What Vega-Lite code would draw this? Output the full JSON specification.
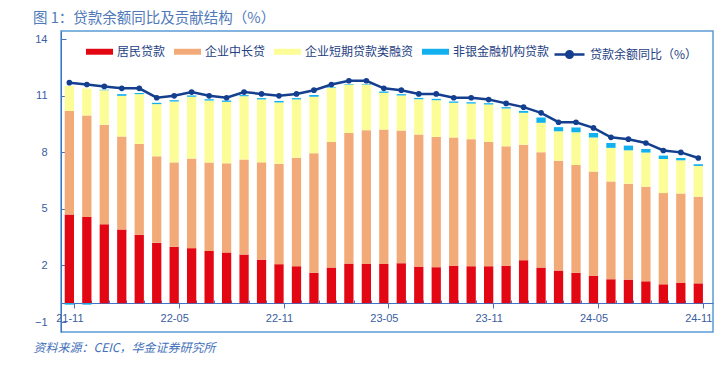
{
  "$schema": "https://vega.github.io/schema/vega-lite/v6.json",
  "width": 652,
  "height": 301,
  "autosize": "none",
  "padding": {"left": 61, "top": 31, "right": 10, "bottom": 33},
  "background": "white",
  "config": {
    "view": {"stroke": "#5b9bd5", "strokeWidth": 1.5},
    "font": "Liberation Sans, Noto Sans CJK SC"
  },
  "title": {
    "text": "图 1：贷款余额同比及贡献结构（%）",
    "anchor": "start",
    "frame": "bounds",
    "fontSize": 14.5,
    "fontWeight": "normal",
    "color": "#4f79b9",
    "font": "Noto Sans CJK SC",
    "offset": 5
  },
  "data": {
    "values": [
      {"m": "21-11", "居民贷款": 4.71, "企业中长贷": 5.49, "企业短期贷款类融资": 1.32, "非银金融机构贷款": -0.08, "yoy": 11.7},
      {"m": "21-12", "居民贷款": 4.57, "企业中长贷": 5.39, "企业短期贷款类融资": 1.43, "非银金融机构贷款": -0.08, "yoy": 11.6},
      {"m": "22-01", "居民贷款": 4.19, "企业中长贷": 5.27, "企业短期贷款类融资": 1.84, "非银金融机构贷款": 0.02, "yoy": 11.5},
      {"m": "22-02", "居民贷款": 3.91, "企业中长贷": 4.93, "企业短期贷款类融资": 2.16, "非银金融机构贷款": 0.09, "yoy": 11.4},
      {"m": "22-03", "居民贷款": 3.63, "企业中长贷": 4.82, "企业短期贷款类融资": 2.64, "非银金融机构贷款": 0.06, "yoy": 11.4},
      {"m": "22-04", "居民贷款": 3.20, "企业中长贷": 4.59, "企业短期贷款类融资": 2.77, "非银金融机构贷款": 0.07, "yoy": 10.9},
      {"m": "22-05", "居民贷款": 2.99, "企业中长贷": 4.48, "企业短期贷款类融资": 3.23, "非银金融机构贷款": 0.07, "yoy": 11.0},
      {"m": "22-06", "居民贷款": 2.92, "企业中长贷": 4.75, "企业短期贷款类融资": 3.28, "非银金融机构贷款": 0.07, "yoy": 11.2},
      {"m": "22-07", "居民贷款": 2.77, "企业中长贷": 4.69, "企业短期贷款类融资": 3.29, "非银金融机构贷款": 0.07, "yoy": 11.0},
      {"m": "22-08", "居民贷款": 2.69, "企业中长贷": 4.73, "企业短期贷款类融资": 3.26, "非银金融机构贷款": 0.07, "yoy": 10.9},
      {"m": "22-09", "居民贷款": 2.58, "企业中长贷": 5.04, "企业短期贷款类融资": 3.36, "非银金融机构贷款": 0.06, "yoy": 11.2},
      {"m": "22-10", "居民贷款": 2.31, "企业中长贷": 5.16, "企业短期贷款类融资": 3.34, "非银金融机构贷款": 0.07, "yoy": 11.1},
      {"m": "22-11", "居民贷款": 2.07, "企业中长贷": 5.32, "企业短期贷款类融资": 3.26, "非银金融机构贷款": 0.08, "yoy": 11.0},
      {"m": "22-12", "居民贷款": 1.96, "企业中长贷": 5.76, "企业短期贷款类融资": 3.09, "非银金融机构贷款": 0.07, "yoy": 11.1},
      {"m": "23-01", "居民贷款": 1.62, "企业中长贷": 6.33, "企业短期贷款类融资": 3.00, "非银金融机构贷款": 0.09, "yoy": 11.3},
      {"m": "23-02", "居民贷款": 1.89, "企业中长贷": 6.66, "企业短期贷款类融资": 2.88, "非银金融机构贷款": 0.03, "yoy": 11.6},
      {"m": "23-03", "居民贷款": 2.10, "企业中长贷": 6.93, "企业短期贷款类融资": 2.56, "非银金融机构贷款": 0.03, "yoy": 11.8},
      {"m": "23-04", "居民贷款": 2.08, "企业中长贷": 7.10, "企业短期贷款类融资": 2.42, "非银金融机构贷款": 0.03, "yoy": 11.8},
      {"m": "23-05", "居民贷款": 2.08, "企业中长贷": 7.13, "企业短期贷款类融资": 1.95, "非银金融机构贷款": 0.07, "yoy": 11.4},
      {"m": "23-06", "居民贷款": 2.12, "企业中长贷": 7.04, "企业短期贷款类融资": 1.86, "非银金融机构贷款": 0.07, "yoy": 11.3},
      {"m": "23-07", "居民贷款": 1.94, "企业中长贷": 7.01, "企业短期贷款类融资": 1.87, "非银金融机构贷款": 0.07, "yoy": 11.1},
      {"m": "23-08", "居民贷款": 1.91, "企业中长贷": 6.91, "企业短期贷款类融资": 1.95, "非银金融机构贷款": 0.07, "yoy": 11.1},
      {"m": "23-09", "居民贷款": 1.99, "企业中长贷": 6.80, "企业短期贷款类融资": 1.84, "非银金融机构贷款": 0.07, "yoy": 10.9},
      {"m": "23-10", "居民贷款": 1.96, "企业中长贷": 6.74, "企业短期贷款类融资": 1.89, "非银金融机构贷款": 0.07, "yoy": 10.9},
      {"m": "23-11", "居民贷款": 1.96, "企业中长贷": 6.59, "企业短期贷款类融资": 1.99, "非银金融机构贷款": 0.07, "yoy": 10.8},
      {"m": "23-12", "居民贷款": 1.99, "企业中长贷": 6.33, "企业短期贷款类融资": 2.01, "非银金融机构贷款": 0.07, "yoy": 10.6},
      {"m": "24-01", "居民贷款": 2.28, "企业中长贷": 6.13, "企业短期贷款类融资": 1.69, "非银金融机构贷款": 0.10, "yoy": 10.4},
      {"m": "24-02", "居民贷款": 1.89, "企业中长贷": 6.12, "企业短期贷款类融资": 1.56, "非银金融机构贷款": 0.28, "yoy": 10.1},
      {"m": "24-03", "居民贷款": 1.73, "企业中长贷": 5.83, "企业短期贷款类融资": 1.56, "非银金融机构贷款": 0.22, "yoy": 9.6},
      {"m": "24-04", "居民贷款": 1.62, "企业中长贷": 5.71, "企业短期贷款类融资": 1.74, "非银金融机构贷款": 0.25, "yoy": 9.6},
      {"m": "24-05", "居民贷款": 1.46, "企业中长贷": 5.52, "企业短期贷款类融资": 1.81, "非银金融机构贷款": 0.24, "yoy": 9.3},
      {"m": "24-06", "居民贷款": 1.27, "企业中长贷": 5.19, "企业短期贷款类融资": 1.78, "非银金融机构贷款": 0.26, "yoy": 8.8},
      {"m": "24-07", "居民贷款": 1.25, "企业中长贷": 5.09, "企业短期贷款类融资": 1.77, "非银金融机构贷款": 0.25, "yoy": 8.7},
      {"m": "24-08", "居民贷款": 1.16, "企业中长贷": 5.02, "企业短期贷款类融资": 1.81, "非银金融机构贷款": 0.19, "yoy": 8.5},
      {"m": "24-09", "居民贷款": 1.00, "企业中长贷": 4.84, "企业短期贷款类融资": 1.81, "非银金融机构贷款": 0.18, "yoy": 8.1},
      {"m": "24-10", "居民贷款": 1.09, "企业中长贷": 4.73, "企业短期贷款类融资": 1.76, "非银金融机构贷款": 0.12, "yoy": 8.0},
      {"m": "24-11", "居民贷款": 1.05, "企业中长贷": 4.60, "企业短期贷款类融资": 1.63, "非银金融机构贷款": 0.09, "yoy": 7.7}
    ]
  },
  "encoding": {
    "x": {
      "field": "m",
      "type": "ordinal",
      "sort": null,
      "scale": {"paddingInner": 0.47, "paddingOuter": 0.395, "align": 0.27},
      "axis": {
        "title": "资料来源：CEIC，华金证券研究所",
        "titleFont": "Noto Sans CJK SC",
        "titleFontSize": 12,
        "titleFontStyle": "italic",
        "titleFontWeight": "normal",
        "titleColor": "#4270b8",
        "titleAlign": "left",
        "titleBaseline": "middle",
        "titleX": -28,
        "titleY": 44,
        "offset": -29,
        "labelAngle": 0,
        "labelFontSize": 11,
        "labelColor": "#3a5da0",
        "labelPadding": 4,
        "labelExpr": "indexof(['21-11','22-05','22-11','23-05','23-11','24-05','24-11'], datum.value) >= 0 ? datum.value : ''",
        "tickBand": "extent",
        "tickColor": "#4472c4",
        "tickSize": {"condition": {"test": "indexof(['21-11','22-05','22-11','23-05','23-11','24-05','24-11'], datum.value) >= 0", "value": 5}, "value": -3},
        "domainColor": "#4472c4",
        "grid": false
      }
    },
    "y": {
      "type": "quantitative",
      "scale": {"domain": [-1.53, 14.44], "nice": false, "zero": false},
      "axis": {
        "title": null,
        "values": [-1, 2, 5, 8, 11, 14],
        "grid": false,
        "tickSize": -5,
        "tickColor": "#4472c4",
        "domainColor": "#4472c4",
        "labelPadding": 19,
        "labelFontSize": 11,
        "labelColor": "#3a5da0"
      }
    }
  },
  "layer": [
    {
      "transform": [
        {"fold": ["居民贷款", "企业中长贷", "企业短期贷款类融资", "非银金融机构贷款"], "as": ["cat", "val"]},
        {"calculate": "indexof(['居民贷款','企业中长贷','企业短期贷款类融资','非银金融机构贷款'], datum.cat)", "as": "k"}
      ],
      "mark": {"type": "bar"},
      "encoding": {
        "y": {"field": "val", "type": "quantitative", "stack": "zero"},
        "color": {
          "field": "cat",
          "type": "nominal",
          "scale": {
            "domain": ["居民贷款", "企业中长贷", "企业短期贷款类融资", "非银金融机构贷款"],
            "range": ["#e30613", "#f2aa78", "#fdfd98", "#12b0ee"]
          },
          "legend": {
            "orient": "none",
            "legendX": 25,
            "legendY": 7,
            "direction": "horizontal",
            "columns": 4,
            "title": null,
            "padding": 0,
            "symbolType": "M-1,-0.22H1V0.22H-1Z",
            "symbolSize": 729,
            "symbolStrokeWidth": 0,
            "labelOffset": 4,
            "columnPadding": 8,
            "labelFontSize": 12,
            "labelFont": "Noto Sans CJK SC",
            "labelColor": "#24407f"
          }
        },
        "order": {"field": "k", "type": "quantitative"}
      }
    },
    {
      "mark": {"type": "line", "strokeWidth": 2.5, "point": {"filled": true, "size": 32}},
      "encoding": {
        "y": {"field": "yoy", "type": "quantitative"},
        "color": {
          "datum": "贷款余额同比（%）",
          "scale": {"range": ["#143e8e"]},
          "legend": {
            "orient": "none",
            "legendX": 492,
            "legendY": 7,
            "title": null,
            "padding": 0,
            "symbolType": "M-1,0H1M0.22,0A0.22,0.22 0 1,1 -0.22,0A0.22,0.22 0 1,1 0.22,0Z",
            "symbolSize": 900,
            "symbolStrokeWidth": 2.5,
            "symbolFillColor": "#143e8e",
            "labelOffset": 4,
            "labelFontSize": 12,
            "labelFont": "Noto Sans CJK SC",
            "labelColor": "#24407f"
          }
        }
      }
    }
  ],
  "resolve": {"scale": {"color": "independent"}}
}
